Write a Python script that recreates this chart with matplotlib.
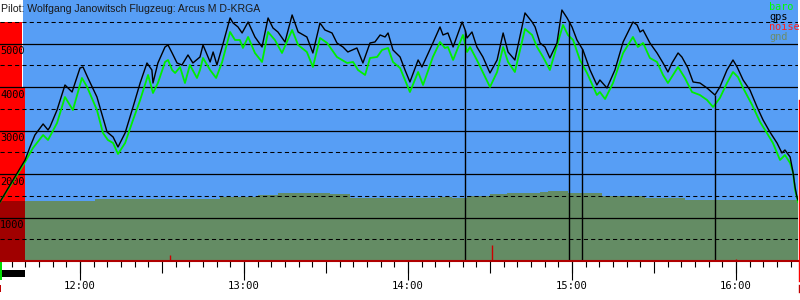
import numpy as np
import matplotlib
matplotlib.use('Agg')
import matplotlib.pyplot as plt
from matplotlib.ticker import MultipleLocator
from matplotlib.transforms import blended_transform_factory
from matplotlib.lines import Line2D
from matplotlib.patches import Rectangle

# ---------------- data (time in minutes since midnight, altitude in m) ----------------
title = "Pilot: Wolfgang Janowitsch Flugzeug: Arcus M D-KRGA"

gps_t = [690.7, 699.9, 701.7, 703.5, 706.5, 708.3, 709.0, 711.6, 714.5, 717.1, 720.0, 721.1, 722.9, 726.2,
         728.4, 729.9, 732.1, 733.9, 736.5, 739.4, 742.0, 744.5, 746.3, 746.7, 748.5, 751.1, 752.2, 753.7,
         755.5, 757.3, 759.5, 761.3, 763.9, 765.0, 767.6, 768.7, 770.1, 772.0, 774.9, 776.0, 777.8, 779.3,
         781.5, 784.0, 786.6, 788.8, 790.6, 792.4, 795.0, 797.6, 799.8, 803.0, 805.2, 807.8, 809.6, 812.2,
         814.0, 816.2, 818.0, 821.3, 823.5, 826.1, 827.9, 829.8, 831.6, 832.7, 834.5, 837.1, 838.9, 840.7,
         843.7, 845.1, 849.1, 851.7, 852.8, 854.6, 856.5, 859.8, 860.9, 861.6, 863.4, 865.2, 867.4, 870.0,
         872.6, 874.8, 876.6, 879.1, 882.8, 885.4, 886.5, 888.3, 890.1, 891.9, 894.5, 896.3, 898.2, 900.0,
         901.8, 904.0, 906.6, 909.1, 910.2, 912.8, 915.7, 918.7, 922.3, 923.8, 924.9, 926.0, 928.5, 931.1,
         933.3, 935.1, 936.6, 938.8, 940.2, 942.4, 944.3, 946.8, 949.4, 952.3, 954.1, 956.7, 958.9, 960.4,
         962.6, 965.1, 967.7, 969.9, 972.4, 975.0, 976.8, 977.9, 979.8, 980.9, 981.6, 982.3, 982.7]
gps_alt = [1356, 2322, 2621, 2897, 3150, 3012, 3081, 3471, 4046, 3885, 4437, 4460, 4207, 3770,
           3288, 2966, 2851, 2621, 2943, 3540, 4092, 4552, 4391, 4092, 4552, 4920, 4966, 4782,
           4552, 4506, 4736, 4552, 4690, 4966, 4575, 4805, 4506, 4920, 5587, 5472, 5380, 5242,
           5495, 5150, 4920, 5587, 5357, 5265, 5035, 5656, 5265, 5150, 4782, 5472, 5311, 5242,
           5012, 4920, 4805, 4897, 4552, 5012, 5035, 5196, 5150, 5242, 4851, 4690, 4391, 4115,
           4621, 4460, 5012, 5380, 5196, 5242, 4920, 5495, 5311, 5127, 5265, 4920, 4690, 4322,
           4621, 5242, 4805, 4621, 5702, 5495, 5380, 5012, 4920, 4667, 5012, 5770, 5587, 5380,
           5081, 4851, 4391, 4046, 4161, 3977, 4391, 5035, 5495, 5426, 5265, 5311, 5012, 4782,
           4552, 4345, 4552, 4782, 4690, 4437, 4115, 4092, 3977, 3816, 4000, 4391, 4621, 4460,
           4161, 3931, 3540, 3242, 2966, 2713, 2483, 2552, 2391, 2023, 1701, 1471, 1402]

baro_t = [690.7, 699.9, 702.8, 706.5, 708.3, 711.6, 714.5, 717.4, 720.7, 722.6, 726.2, 728.4, 730.2,
          732.1, 733.9, 736.5, 739.4, 742.0, 744.9, 746.7, 748.5, 751.1, 752.2, 753.7, 754.8, 756.6,
          758.4, 760.2, 762.8, 763.9, 765.0, 767.6, 769.8, 772.0, 774.9, 776.7, 778.5, 779.6, 781.5,
          784.0, 786.6, 788.8, 791.3, 793.9, 797.6, 799.8, 803.0, 805.2, 807.8, 810.4, 812.2, 814.0,
          817.7, 819.9, 821.7, 824.3, 826.1, 828.7, 830.5, 832.7, 834.5, 837.1, 840.7, 843.7, 845.5,
          849.1, 851.7, 853.5, 854.6, 856.5, 860.1, 861.6, 862.7, 865.2, 870.0, 872.6, 874.8, 876.6,
          879.1, 882.8, 885.4, 887.2, 889.4, 891.9, 896.7, 898.5, 900.4, 902.9, 905.5, 909.1, 910.2,
          912.1, 915.0, 918.7, 922.3, 924.1, 926.0, 928.5, 931.1, 933.3, 935.1, 938.8, 941.3, 943.9,
          946.8, 949.4, 951.6, 954.1, 956.7, 958.9, 960.7, 962.6, 965.9, 968.8, 971.3, 973.5, 976.1,
          977.9, 979.8, 980.9, 981.6, 982.7]
baro_alt = [1356, 2276, 2598, 2897, 2782, 3173, 3770, 3471, 4207, 4000, 3471, 2943, 2782,
            2713, 2460, 2713, 3242, 3701, 4276, 3862, 4092, 4575, 4621, 4391, 4322, 4460,
            4092, 4506, 4207, 4391, 4667, 4391, 4207, 4575, 5265, 5081, 5081, 4897, 5150,
            4782, 4575, 5265, 5081, 4782, 5311, 4966, 4805, 4460, 5127, 5012, 4851, 4690,
            4552, 4575, 4391, 4276, 4667, 4690, 4851, 4897, 4575, 4437, 3885, 4345, 4046,
            4690, 5035, 4897, 4920, 4621, 5196, 4805, 4920, 4621, 4000, 4345, 4920, 4575,
            4345, 5334, 5196, 4920, 4690, 4391, 5426, 5196, 5081, 4621, 4322, 3816, 3885,
            3724, 4092, 4782, 5150, 4920, 5012, 4667, 4575, 4276, 4092, 4460, 4207, 3885,
            3816, 3701, 3540, 3747, 4092, 4345, 4230, 3977, 3586, 3196, 2943, 2713, 2322,
            2437, 2253, 2023, 1632, 1356]

gnd_t = [690.0, 725.5, 763.9, 771.2, 785.1, 792.6, 811.5, 818.8, 851.7, 856.0, 861.6, 870.0,
         876.2, 888.3, 891.2, 898.5, 911.0, 926.7, 941.3, 985.0]
gnd_alt = [1379, 1414, 1425, 1471, 1517, 1563, 1540, 1448, 1471, 1448, 1494, 1540,
           1563, 1586, 1609, 1563, 1494, 1448, 1402, 1402]

noise_t = [752.9, 870.7, 960.0]
noise_h = [140, 370, 50]

marker_t = [860.9, 898.9, 903.7, 952.3]

hour_ticks = [720, 780, 840, 900, 960]
hour_labels = ["12:00", "13:00", "14:00", "15:00", "16:00"]
alt_labels = [1000, 2000, 3000, 4000, 5000]

legend_names = ["baro", "gps", "noise", "gnd"]
legend_colors = ["#00ff00", "#000000", "#ff2020", "#6b8c6b"]

# ---------------- figure ----------------
W, H = 800, 300
fig = plt.figure(figsize=(8, 3), dpi=100)
fig.patch.set_facecolor('white')
ax_w = 798
ax = fig.add_axes([0, 39 / H, ax_w / W, 261 / H])
ax.set_xlim(690.73, 982.68)
ax.set_ylim(0, 6000)
BLUE = '#579ef5'
ax.set_facecolor(BLUE)

# ground
ax.fill_between(gnd_t, 0, gnd_alt, step='post', color='#648c64', lw=0, zorder=1)

# left bar panel
bt = blended_transform_factory(ax.transAxes, ax.transData)
g0 = gnd_alt[0]
ax.add_patch(Rectangle((0, 0), 25 / ax_w, g0, transform=bt, color='#a00000', lw=0, zorder=2))
ax.add_patch(Rectangle((0, g0), 25 / ax_w, 4000 - g0, transform=bt, color='#ff0000', lw=0, zorder=2))
ax.add_patch(Rectangle((0, 4000), 22 / ax_w, 1500, transform=bt, color='#ff0000', lw=0, zorder=2))
ax.add_patch(Rectangle((22 / ax_w, 4000), 1.4 / ax_w, 2000, transform=bt, color='white', lw=0, zorder=2))
ax.add_patch(Rectangle((0, 5500), 23.4 / ax_w, 500, transform=bt, color='white', lw=0, zorder=2))
ax.plot([24 / ax_w, 24 / ax_w], [3850, 4000], transform=bt, color='#ff0000', lw=0.8, zorder=2)

# grid
for v in range(500, 6000, 500):
    if v % 1000 == 0:
        ax.axhline(v, color='black', lw=0.9, zorder=3)
    else:
        ax.axhline(v, color='black', lw=0.75, ls=(0, (4, 3)), zorder=3)

# altitude labels
for v in alt_labels:
    ax.annotate(str(v), xy=(0, v), xycoords=bt, xytext=(0, -2.0), textcoords='offset points',
                ha='left', va='top', fontsize=7.4, family='DejaVu Sans Mono', color='black', zorder=4)

# noise
ax.vlines(noise_t, 0, noise_h, color='#cc0000', lw=1.0, zorder=4)

# traces
ax.plot(baro_t, baro_alt, color='#00ee00', lw=1.3, zorder=5)
ax.plot(gps_t, gps_alt, color='black', lw=1.0, zorder=6)

# task markers
mk_top = np.interp(marker_t, gps_t, gps_alt)
ax.vlines(marker_t, 0, mk_top, color='black', lw=1.0, zorder=6)

# axes styling
for s in ['top', 'left', 'right']:
    ax.spines[s].set_visible(False)
ax.spines['bottom'].set_color('#b00000')
ax.spines['bottom'].set_linewidth(1.5)
ax.spines['bottom'].set_zorder(7)
ax.set_yticks([])
ax.xaxis.set_major_locator(MultipleLocator(30))
ax.xaxis.set_minor_locator(MultipleLocator(5))
ax.tick_params(axis='x', which='major', length=8.6, width=0.8, color='black', labelbottom=False)
ax.tick_params(axis='x', which='minor', length=4.3, width=0.8, color='black')

sec = ax.secondary_xaxis('bottom')
sec.set_xticks(hour_ticks)
sec.set_xticklabels(hour_labels)
sec.tick_params(axis='x', length=13.7, width=0.8, color='black', labelsize=7.6, pad=1.0)
for lab in sec.get_xticklabels():
    lab.set_family('DejaVu Sans Mono')
sec.spines['bottom'].set_visible(False)

# title
fig.text(1 / W, 1 - 8.5 / H, title, fontsize=7.6, family='Liberation Sans', color='#1a1a1a',
         ha='left', va='center', zorder=10)

# legend
for i, (n, c) in enumerate(zip(legend_names, legend_colors)):
    fig.text(769 / W, 1 - (7.5 + 9.7 * i) / H, n, fontsize=7.4, family='DejaVu Sans Mono', color=c,
             ha='left', va='center', zorder=10)

# decorations outside the axes
fig.add_artist(Line2D([798.5 / W] * 2, [1 - 100 / H, 1 - 281 / H], color='#ff0000', lw=1.0))
fig.add_artist(Line2D([798.5 / W] * 2, [1 - 285 / H, 1 - 292 / H], color='#c00000', lw=1.0))
fig.add_artist(Rectangle((0, 1 - 277 / H), 25 / W, 7 / H, color='black', lw=0))
fig.add_artist(Rectangle((0, 1 - 280 / H), 2 / W, 18 / H, color='#00dd00', lw=0))
fig.add_artist(Rectangle((0, 1 - 292 / H), 1.2 / W, 7 / H, color='#c00000', lw=0))

fig.savefig('out.png', dpi=100)
